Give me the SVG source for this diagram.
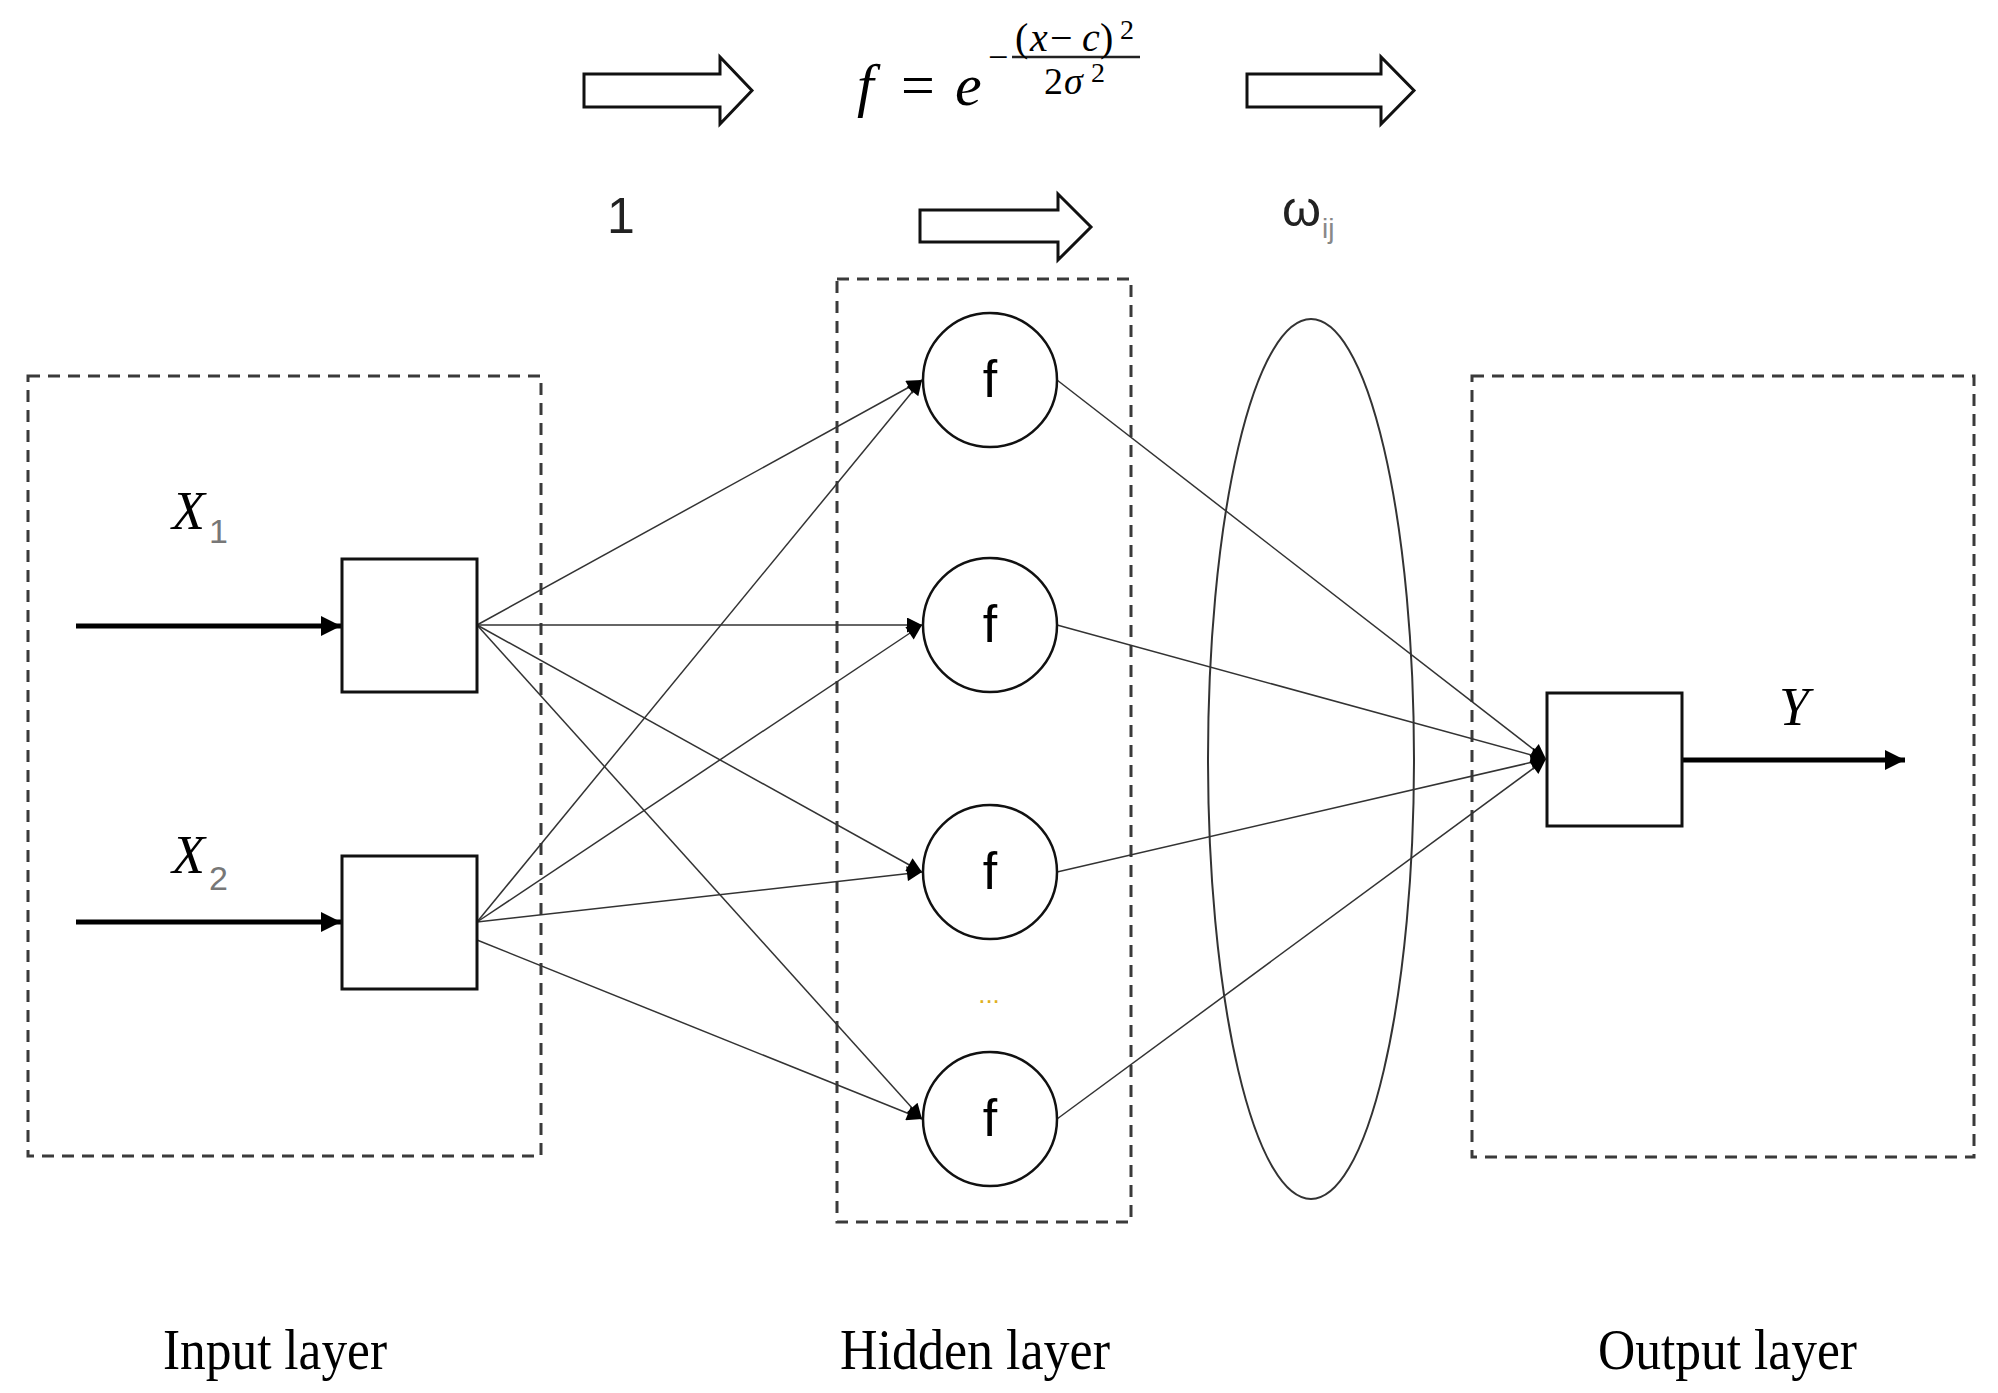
<svg xmlns="http://www.w3.org/2000/svg" width="1998" height="1393" viewBox="0 0 1998 1393">
<style>
.dash{fill:none;stroke:#3a3a3a;stroke-width:3;stroke-dasharray:12 8}
.box{fill:#fff;stroke:#111;stroke-width:3}
.node{fill:#fff;stroke:#111;stroke-width:2.5}
.conn{stroke:#333;stroke-width:1.5;fill:none}
.thick{stroke:#000;stroke-width:5;fill:none}
.blk{fill:#fff;stroke:#111;stroke-width:3;stroke-linejoin:miter}
.sans{font-family:"Liberation Sans",Arial,sans-serif}
.serif{font-family:"Liberation Serif","Times New Roman",serif}
.it{font-family:"Liberation Serif","Times New Roman",serif;font-style:italic}
.lbl{font-family:"Liberation Serif","Times New Roman",serif;font-size:57px;fill:#000}
</style>
<defs>
<marker id="ah" viewBox="0 0 10 10" refX="10" refY="5" markerWidth="20" markerHeight="15" markerUnits="userSpaceOnUse" orient="auto"><path d="M0,0 L10,5 L0,10 z" fill="#000"/></marker>
<marker id="ahb" viewBox="0 0 10 10" refX="10" refY="5" markerWidth="24" markerHeight="20" markerUnits="userSpaceOnUse" orient="auto"><path d="M0,0 L10,5 L0,10 z" fill="#000"/></marker>
</defs>

<!-- top block arrows -->
<g id="top-arrow-1"><path class="blk" d="M584,74 H720 V57 L752,90.5 L720,124 V107 H584 Z"/></g>
<g id="top-arrow-2"><path class="blk" d="M1247,74 H1381 V57 L1414,90.5 L1381,124 V107 H1247 Z"/></g>
<g id="mid-arrow"><path class="blk" d="M920,210 H1058 V194 L1091,227 L1058,260 V242 H920 Z"/></g>

<!-- formula -->
<g id="formula">
<text class="it" x="857" y="105" font-size="60">f</text>
<text class="serif" x="901" y="105" font-size="60">=</text>
<text class="it" x="955" y="105" font-size="60">e</text>
<text class="serif" x="988" y="69" font-size="36">−</text>
<line x1="1012" y1="57" x2="1140" y2="57" stroke="#222" stroke-width="2.5"/>
<text class="serif" x="1015" y="51" font-size="40">(</text>
<text class="it" x="1030" y="51" font-size="40">x</text>
<text class="serif" x="1050" y="51" font-size="40">−</text>
<text class="it" x="1082" y="51" font-size="40">c</text>
<text class="serif" x="1100" y="51" font-size="40">)</text>
<text class="serif" x="1120" y="39" font-size="28">2</text>
<text class="serif" x="1044" y="94" font-size="38">2</text>
<text class="it" x="1064" y="94" font-size="38">σ</text>
<text class="serif" x="1091" y="82" font-size="28">2</text>
</g>

<text class="sans" x="621" y="233" font-size="50" text-anchor="middle" fill="#222">1</text>
<g id="omega">
<text class="sans" x="1282" y="226" font-size="50" fill="#222">ω</text>
<text class="sans" x="1322" y="238" font-size="28" fill="#888">ij</text>
</g>

<!-- dashed layer boxes -->
<g id="input-layer-box"><rect class="dash" x="28" y="376" width="513" height="780"/></g>
<g id="hidden-layer-box"><rect class="dash" x="837" y="279" width="294" height="943"/></g>
<g id="output-layer-box"><rect class="dash" x="1472" y="376" width="502" height="781"/></g>

<!-- weight ellipse -->
<g id="weights-ellipse"><ellipse cx="1311" cy="759" rx="103" ry="440" fill="none" stroke="#333" stroke-width="2"/></g>

<!-- connectors -->
<g id="connectors">
<line class="thick" x1="76" y1="626" x2="341" y2="626" marker-end="url(#ahb)"/>
<line class="thick" x1="76" y1="922" x2="341" y2="922" marker-end="url(#ahb)"/>
<line class="thick" x1="1682" y1="760" x2="1905" y2="760" marker-end="url(#ahb)"/>

<line class="conn" x1="477" y1="625" x2="922" y2="380" marker-end="url(#ah)"/>
<line class="conn" x1="477" y1="625" x2="922" y2="625" marker-end="url(#ah)"/>
<line class="conn" x1="477" y1="625" x2="922" y2="872" marker-end="url(#ah)"/>
<line class="conn" x1="477" y1="625" x2="922" y2="1119" marker-end="url(#ah)"/>

<line class="conn" x1="477" y1="922" x2="922" y2="380" marker-end="url(#ah)"/>
<line class="conn" x1="477" y1="922" x2="922" y2="625" marker-end="url(#ah)"/>
<line class="conn" x1="477" y1="922" x2="922" y2="872" marker-end="url(#ah)"/>
<line class="conn" x1="477" y1="940" x2="922" y2="1119" marker-end="url(#ah)"/>

<line class="conn" x1="1057" y1="380" x2="1546" y2="759" marker-end="url(#ah)"/>
<line class="conn" x1="1057" y1="625" x2="1546" y2="759" marker-end="url(#ah)"/>
<line class="conn" x1="1057" y1="872" x2="1546" y2="759" marker-end="url(#ah)"/>
<line class="conn" x1="1057" y1="1119" x2="1546" y2="759" marker-end="url(#ah)"/>
</g>

<!-- input nodes -->
<g id="input-1"><rect class="box" x="342" y="559" width="135" height="133"/></g>
<g id="input-2"><rect class="box" x="342" y="856" width="135" height="133"/></g>
<g id="label-x1"><text class="it" x="172" y="529" font-size="54">X</text><text class="sans" x="209" y="543" font-size="34" fill="#777">1</text></g>
<g id="label-x2"><text class="it" x="172" y="873" font-size="54">X</text><text class="sans" x="209" y="890" font-size="34" fill="#777">2</text></g>

<!-- hidden nodes -->
<g id="hidden-1"><circle class="node" cx="990" cy="380" r="67"/><text class="sans" x="990" y="397" font-size="52" text-anchor="middle">f</text></g>
<g id="hidden-2"><circle class="node" cx="990" cy="625" r="67"/><text class="sans" x="990" y="642" font-size="52" text-anchor="middle">f</text></g>
<g id="hidden-3"><circle class="node" cx="990" cy="872" r="67"/><text class="sans" x="990" y="889" font-size="52" text-anchor="middle">f</text></g>
<g id="hidden-4"><circle class="node" cx="990" cy="1119" r="67"/><text class="sans" x="990" y="1136" font-size="52" text-anchor="middle">f</text></g>
<text class="sans" x="989" y="1003" font-size="26" text-anchor="middle" fill="#e0b020">...</text>

<!-- output node -->
<g id="output"><rect class="box" x="1547" y="693" width="135" height="133"/></g>
<text class="it" x="1779" y="725" font-size="54">Y</text>

<!-- layer labels -->
<text class="lbl" x="163" y="1369" textLength="224" lengthAdjust="spacingAndGlyphs">Input layer</text>
<text class="lbl" x="840" y="1369" textLength="270" lengthAdjust="spacingAndGlyphs">Hidden layer</text>
<text class="lbl" x="1598" y="1369" textLength="259" lengthAdjust="spacingAndGlyphs">Output layer</text>
</svg>
